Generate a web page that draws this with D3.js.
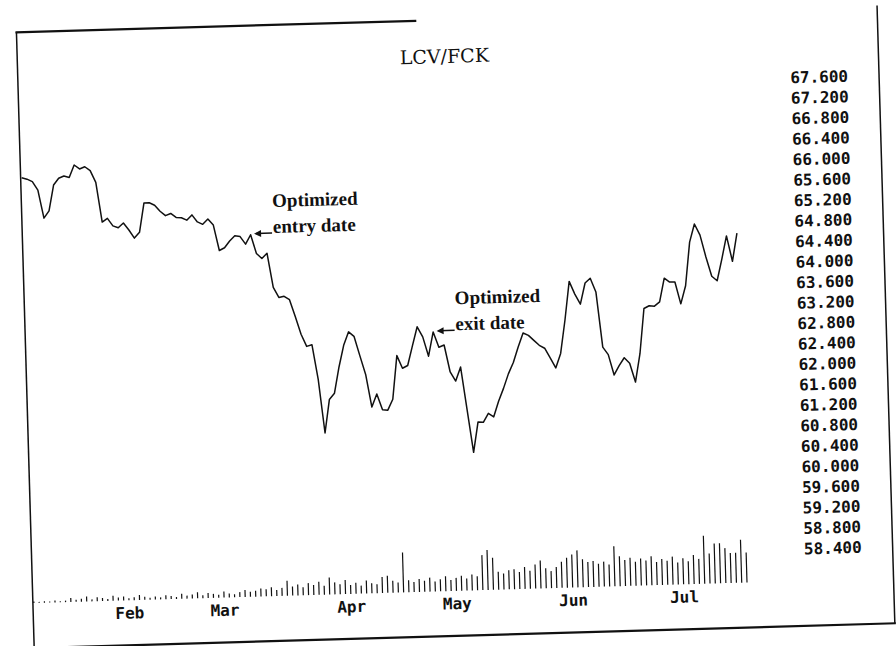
<!DOCTYPE html>
<html>
<head>
<meta charset="utf-8">
<script src="https://cdnjs.cloudflare.com/ajax/libs/d3/7.8.5/d3.min.js"></script>
<style>
body { margin: 0; background: #fff; }
svg { display: block; }
</style>
</head>
<body>
<script>
// daily closes, one per trading day (mid Jan .. mid Jul)
var closes = [
    66.08, 66.05, 66.00, 65.83, 65.28, 65.42, 65.92, 66.05, 66.09, 66.06,
    66.30, 66.22, 66.26, 66.18, 65.95, 65.17, 65.24, 65.09, 65.05, 65.14,
    65.00, 64.84, 64.95, 65.52, 65.52, 65.47, 65.35, 65.26, 65.30, 65.22,
    65.21, 65.16, 65.26, 65.12, 65.07, 65.17, 65.05, 64.55, 64.60, 64.73,
    64.83, 64.81, 64.66, 64.84, 64.47, 64.37, 64.47, 63.80, 63.60, 63.62,
    63.55, 63.22, 62.87, 62.63, 62.66, 61.98, 60.93, 61.58, 61.70, 62.21,
    62.63, 62.89, 62.80, 62.42, 62.05, 61.41, 61.66, 61.35, 61.34, 61.55,
    62.40, 62.15, 62.20, 62.58, 62.95, 62.75, 62.37, 62.84, 62.54, 62.58,
    62.05, 61.87, 62.14, 61.30, 60.47, 61.06, 61.05, 61.22, 61.15, 61.45,
    61.70, 61.98, 62.20, 62.50, 62.77, 62.72, 62.62, 62.52, 62.46, 62.27,
    62.07, 62.35, 63.00, 63.75, 63.50, 63.30, 63.71, 63.80, 63.53, 62.45,
    62.30, 61.90, 62.08, 62.23, 62.12, 61.75, 62.30, 63.18, 63.23, 63.22,
    63.30, 63.76, 63.68, 63.68, 63.25, 63.60, 64.45, 64.80, 64.58, 64.15,
    63.77, 63.68, 64.10, 64.55, 64.05, 64.60
];

// daily volume, same days
var volumes = [
    150, 100, 150, 100, 200, 100, 150,
    400, 200, 300, 500, 200, 400, 300, 200, 500, 300, 400, 200, 300, 500, 300, 200,
    300, 200, 400, 300, 200, 500, 300, 400, 600, 300, 500, 400, 300, 600, 400, 300, 500, 700,
    500, 600, 800, 700, 900, 600, 800, 1500,
    900, 1100, 800, 1200, 1000, 1300, 900,
    1700,
    1200, 1000, 1400, 900, 1100, 800, 1300, 1000, 900,
    1600, 1700, 1200, 1000,
    4000,
    1200, 1000, 1300, 1100, 1400, 1000, 1200, 1500, 1100, 1300, 1500, 1200, 1600, 1400,
    3500, 4000, 3200,
    1800, 1600, 1900, 2000, 1700, 2200, 1800, 2400, 2800, 2000, 1700, 2100,
    2600, 3000, 3300, 3700, 2800, 2500,
    2600, 2300, 2500, 2200,
    4000,
    3000, 2600, 2800, 2400, 2700, 2500, 2900, 2300, 2600, 2400, 2800, 2200, 2600, 2300, 2900, 2500,
    4800, 3000, 4000, 4000, 3500, 3000, 3000, 4300, 3000
];

var months = ["Feb", "Mar", "Apr", "May", "Jun", "Jul"];
var monthDays = [18, 36, 60, 80, 102, 123];

var priceTicks = [67.6, 67.2, 66.8, 66.4, 66.0, 65.6, 65.2, 64.8, 64.4, 64.0, 63.6, 63.2,
    62.8, 62.4, 62.0, 61.6, 61.2, 60.8, 60.4, 60.0, 59.6, 59.2, 58.8, 58.4];

var title = "LCV/FCK";
var notes = [
    { day: 43, lines: ["Optimized", "entry date"] },
    { day: 77, lines: ["Optimized", "exit date"] }
];

var width = 896, height = 646;

var svg = d3.select("body").append("svg")
    .attr("width", width)
    .attr("height", height);

// the original page was scanned a little crooked
var g = svg.append("g").attr("transform", "rotate(-1.65, 448, 323)");

var x = d3.scaleLinear().domain([0, closes.length - 1]).range([26, 739.4]);
var y = d3.scaleLinear().domain([58.4, 67.6]).range([559, 87.7]);
var volBase = 591;
var vol = d3.scaleLinear().domain([0, 5000]).range([0, 50]);

// frame (top edge only partly printed)
var frame = [
    { x1: 25, y1: 20, x2: 25, y2: 636, w: 1.5 },
    { x1: 24, y1: 636, x2: 887, y2: 636, w: 2.2 },
    { x1: 886, y1: 18, x2: 886, y2: 636, w: 1.5 },
    { x1: 24, y1: 20, x2: 425, y2: 20, w: 2.2 }
];
g.selectAll("line.frame")
    .data(frame).enter().append("line")
    .attr("class", "frame")
    .attr("x1", function (d) { return d.x1; })
    .attr("y1", function (d) { return d.y1; })
    .attr("x2", function (d) { return d.x2; })
    .attr("y2", function (d) { return d.y2; })
    .attr("stroke", "#111")
    .attr("stroke-width", function (d) { return d.w; });

g.append("text")
    .attr("x", 452)
    .attr("y", 63)
    .attr("text-anchor", "middle")
    .attr("font-family", "DejaVu Serif")
    .attr("font-size", 19)
    .attr("fill", "#111")
    .text(title);

// price line
var lineFunction = d3.line()
    .x(function (d, i) { return x(i); })
    .y(function (d) { return y(d); });

g.append("path")
    .attr("d", lineFunction(closes))
    .attr("fill", "none")
    .attr("stroke", "#111")
    .attr("stroke-width", 1.5)
    .attr("stroke-linejoin", "round");

// volume sticks
g.selectAll("line.vol")
    .data(volumes).enter().append("line")
    .attr("class", "vol")
    .attr("x1", function (d, i) { return x(i); })
    .attr("x2", function (d, i) { return x(i); })
    .attr("y1", volBase)
    .attr("y2", function (d) { return volBase - vol(d); })
    .attr("stroke", "#111")
    .attr("stroke-width", 1.2);

// price axis on the right
var yAxis = g.append("g")
    .attr("transform", "translate(855,0)")
    .call(d3.axisRight(y)
        .tickValues(priceTicks)
        .tickFormat(d3.format(".3f"))
        .tickSize(0)
        .tickPadding(0));
yAxis.select(".domain").remove();
yAxis.selectAll("text")
    .attr("text-anchor", "end")
    .attr("font-family", "DejaVu Sans Mono")
    .attr("font-weight", "bold")
    .attr("font-size", 16)
    .attr("fill", "#111");

// month labels
var xAxis = g.append("g")
    .attr("transform", "translate(0," + volBase + ")")
    .call(d3.axisBottom(x)
        .tickValues(monthDays)
        .tickFormat(function (d, i) { return months[i]; })
        .tickSize(0)
        .tickPadding(7));
xAxis.select(".domain").remove();
xAxis.selectAll("text")
    .attr("font-family", "DejaVu Sans Mono")
    .attr("font-weight", "bold")
    .attr("font-size", 16)
    .attr("fill", "#111");

// entry / exit notes with arrows
var note = g.selectAll("g.note")
    .data(notes).enter().append("g")
    .attr("class", "note")
    .attr("transform", function (d) {
        return "translate(" + (x(d.day) + 3.5) + "," + (y(closes[d.day]) - 1) + ")";
    });
note.append("line")
    .attr("x1", 2).attr("y1", 0)
    .attr("x2", 18).attr("y2", 0)
    .attr("stroke", "#111")
    .attr("stroke-width", 1.5);
note.append("path")
    .attr("d", "M0,0L7,-3.5L7,3.5Z")
    .attr("fill", "#111");
note.each(function (d) {
    var n = d3.select(this);
    n.append("text")
        .attr("x", 19).attr("y", -26)
        .attr("font-family", "Liberation Serif")
        .attr("font-weight", "bold")
        .attr("font-size", 19)
        .attr("fill", "#111")
        .text(d.lines[0]);
    n.append("text")
        .attr("x", 19).attr("y", 0)
        .attr("font-family", "Liberation Serif")
        .attr("font-weight", "bold")
        .attr("font-size", 19)
        .attr("fill", "#111")
        .text(d.lines[1]);
});
</script>
</body>
</html>
